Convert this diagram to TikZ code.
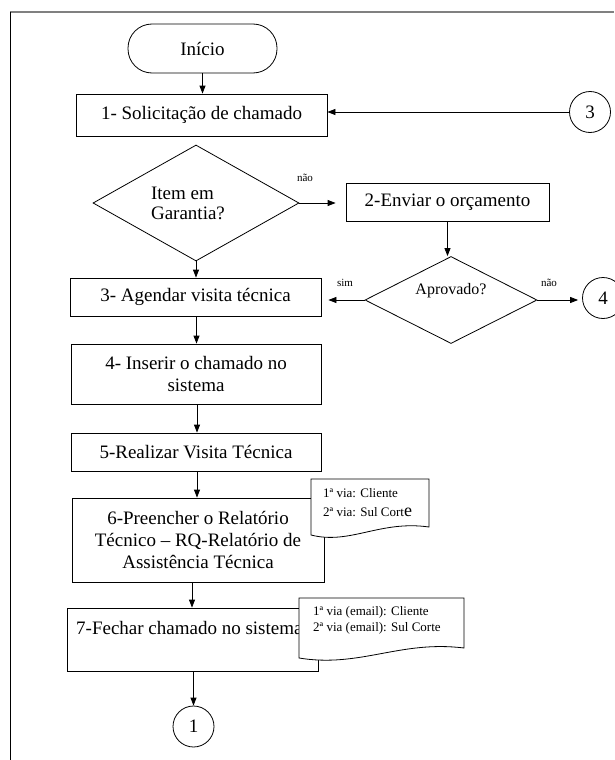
\documentclass[tikz,border=0pt]{standalone}
\usepackage{fontspec}
\setmainfont{Liberation Serif}
\usetikzlibrary{shapes.geometric,arrows.meta}
\begin{document}
\begin{tikzpicture}[x=1pt,y=-1pt,
  every node/.style={inner sep=0pt},
  box/.style={draw, line width=0.8pt, rectangle, align=center, font=\fontsize{19}{22}\selectfont},
  dec/.style={draw, line width=0.8pt, diamond, aspect=2, align=left},
  conn/.style={draw, line width=0.8pt, circle, minimum size=41pt, font=\fontsize{19}{22}\selectfont},
  arr/.style={line width=0.8pt, -{Triangle[length=8pt,width=6pt]}},
  lbl/.style={font=\fontsize{11}{13}\selectfont},
  note/.style={draw, line width=0.8pt, fill=white},
  notetxt/.style={anchor=west, font=\fontsize{13}{16}\selectfont}
]
\useasboundingbox (0,0) rectangle (614,760);
% page frame
\draw[gray, line width=1.3pt] (10,12) -- (614,12);
\draw[line width=0.8pt] (10,12) -- (10,760);

% nodes
\node[box, rounded corners=24pt, minimum width=149pt, minimum height=49pt] (ini) at (202.5,48.5) {Início};
\node[box, minimum width=251pt, minimum height=42pt] (b1) at (201.5,115) {1- Solicitação de chamado};
\node[conn] (c3) at (590,112) {3};
\node[dec, minimum width=206pt, minimum height=116pt, font=\fontsize{19}{20}\selectfont] (d1) at (196,203) {Item em\\Garantia?\hspace*{16pt}};
\node[box, minimum width=203pt, minimum height=38pt] (b2) at (447.5,202) {2-Enviar o orçamento};
\node[dec, minimum width=172pt, minimum height=87pt, font=\fontsize{16}{18}\selectfont] (d2) at (451,300) {Aprovado?\\[4pt]};
\node[conn] (c4) at (603,298) {4};
\node[box, minimum width=251pt, minimum height=38pt] (b3) at (195.5,297) {3- Agendar visita técnica};
\node[box, minimum width=250pt, minimum height=60pt] (b4) at (196,374) {4- Inserir o chamado no\\sistema};
\node[box, minimum width=250pt, minimum height=38pt] (b5) at (196,452) {5-Realizar Visita Técnica};
\node[box, minimum width=252pt, minimum height=84pt] (b6) at (198,540) {6-Preencher o Relatório\\Técnico – RQ-Relatório de\\Assistência Técnica};
\node[box, minimum width=251pt, minimum height=63pt] (b7) at (192.5,639.5) {};
\node[anchor=west, font=\fontsize{19}{22}\selectfont] (t7) at (76,628) {7-Fechar chamado no sistema};
\node[conn] (c1) at (193.5,726.5) {1};

% labels
\node[lbl] (l1) at (305,178) {não};
\node[lbl] (l2) at (345,283) {sim};
\node[lbl] (l3) at (549,283) {não};

% connectors
\draw[arr] (ini.south) -- (ini.south |- b1.north);
\draw[arr] (c3.west) -- (c3.west -| b1.east);
\draw[arr, shorten >=10pt] (d1.east) -- (b2.west |- d1.east);
\draw[arr] (b2.south) -- (b2.south |- d2.north);
\draw[arr, shorten >=7pt] (d2.west) -- (b3.east |- d2.west);
\draw[arr, shorten >=4pt] (d2.east) -- (c4.west |- d2.east);
\draw[arr] (d1.south) -- (d1.south |- b3.north);
\draw[arr] ([xshift=1pt]b3.south) -- ([xshift=1pt]b3.south |- b4.north);
\draw[arr] ([xshift=1pt]b4.south) -- ([xshift=1pt]b4.south |- b5.north);
\draw[arr] ([xshift=1pt]b5.south) -- ([xshift=1pt]b5.south |- b6.north);
\draw[arr] ([xshift=-6pt]b6.south) -- ([xshift=-6pt]b6.south |- b7.north);
\draw[arr] (b7.south -| c1.north) -- (c1.north);

% document notes
\draw[note] (311,479) -- (429,479) -- (429,527) .. controls (380,520) and (350,545) .. (311,535) -- cycle;
\node[notetxt] (n1a) at (323,493) {1ª via: Cliente};
\node[notetxt] (n1b) at (323,512) {2ª via: Sul Cort{\fontsize{18}{18}\selectfont e}};
\draw[note] (299,598) -- (464,598) -- (464,648) .. controls (400,640) and (360,668) .. (299,658) -- cycle;
\node[notetxt] (n2a) at (313,612) {1ª via (email): Cliente};
\node[notetxt] (n2b) at (313,628) {2ª via (email): Sul Corte};
\end{tikzpicture}
\end{document}
